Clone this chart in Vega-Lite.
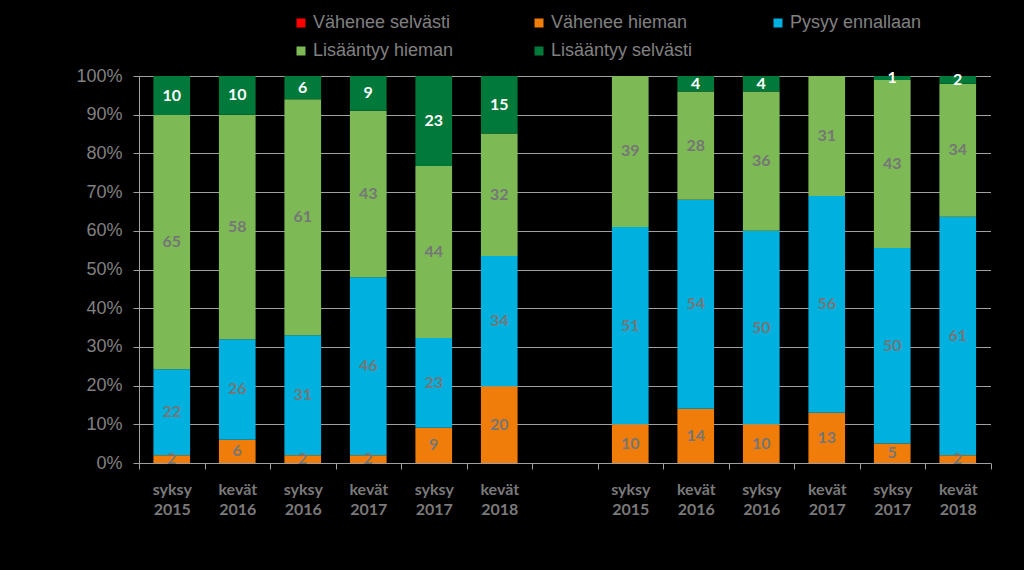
{
  "$schema": "https://vega.github.io/schema/vega-lite/v6.json",
  "width": 851.5,
  "height": 387,
  "autosize": {"type": "none"},
  "padding": {"left": 139, "top": 76, "right": 33.5, "bottom": 107},
  "background": "black",
  "config": {
    "view": {"stroke": null},
    "font": "Liberation Sans",
    "axisY": {
      "title": null,
      "values": [0, 0.1, 0.2, 0.3, 0.4, 0.5, 0.6, 0.7, 0.8, 0.9, 1],
      "labelOverlap": false,
      "format": ".0%",
      "labelFont": "Liberation Sans",
      "labelFontSize": 18,
      "labelColor": "#808080",
      "labelPadding": 11,
      "tickSize": 6,
      "tickColor": "#a0a0a0",
      "domainColor": "#a0a0a0",
      "grid": true,
      "gridColor": "#a0a0a0",
      "gridWidth": 1
    }
  },
  "data": {
    "values": [
      {"c": "syksy 2015|A", "s": "Vähenee hieman", "o": 2, "v": 2},
      {"c": "syksy 2015|A", "s": "Pysyy ennallaan", "o": 3, "v": 22},
      {"c": "syksy 2015|A", "s": "Lisääntyy hieman", "o": 4, "v": 65},
      {"c": "syksy 2015|A", "s": "Lisääntyy selvästi", "o": 5, "v": 10},
      {"c": "kevät 2016|A", "s": "Vähenee hieman", "o": 2, "v": 6},
      {"c": "kevät 2016|A", "s": "Pysyy ennallaan", "o": 3, "v": 26},
      {"c": "kevät 2016|A", "s": "Lisääntyy hieman", "o": 4, "v": 58},
      {"c": "kevät 2016|A", "s": "Lisääntyy selvästi", "o": 5, "v": 10},
      {"c": "syksy 2016|A", "s": "Vähenee hieman", "o": 2, "v": 2},
      {"c": "syksy 2016|A", "s": "Pysyy ennallaan", "o": 3, "v": 31},
      {"c": "syksy 2016|A", "s": "Lisääntyy hieman", "o": 4, "v": 61},
      {"c": "syksy 2016|A", "s": "Lisääntyy selvästi", "o": 5, "v": 6},
      {"c": "kevät 2017|A", "s": "Vähenee hieman", "o": 2, "v": 2},
      {"c": "kevät 2017|A", "s": "Pysyy ennallaan", "o": 3, "v": 46},
      {"c": "kevät 2017|A", "s": "Lisääntyy hieman", "o": 4, "v": 43},
      {"c": "kevät 2017|A", "s": "Lisääntyy selvästi", "o": 5, "v": 9},
      {"c": "syksy 2017|A", "s": "Vähenee hieman", "o": 2, "v": 9},
      {"c": "syksy 2017|A", "s": "Pysyy ennallaan", "o": 3, "v": 23},
      {"c": "syksy 2017|A", "s": "Lisääntyy hieman", "o": 4, "v": 44},
      {"c": "syksy 2017|A", "s": "Lisääntyy selvästi", "o": 5, "v": 23},
      {"c": "kevät 2018|A", "s": "Vähenee hieman", "o": 2, "v": 20},
      {"c": "kevät 2018|A", "s": "Pysyy ennallaan", "o": 3, "v": 34},
      {"c": "kevät 2018|A", "s": "Lisääntyy hieman", "o": 4, "v": 32},
      {"c": "kevät 2018|A", "s": "Lisääntyy selvästi", "o": 5, "v": 15},
      {"c": "syksy 2015|B", "s": "Vähenee hieman", "o": 2, "v": 10},
      {"c": "syksy 2015|B", "s": "Pysyy ennallaan", "o": 3, "v": 51},
      {"c": "syksy 2015|B", "s": "Lisääntyy hieman", "o": 4, "v": 39},
      {"c": "kevät 2016|B", "s": "Vähenee hieman", "o": 2, "v": 14},
      {"c": "kevät 2016|B", "s": "Pysyy ennallaan", "o": 3, "v": 54},
      {"c": "kevät 2016|B", "s": "Lisääntyy hieman", "o": 4, "v": 28},
      {"c": "kevät 2016|B", "s": "Lisääntyy selvästi", "o": 5, "v": 4},
      {"c": "syksy 2016|B", "s": "Vähenee hieman", "o": 2, "v": 10},
      {"c": "syksy 2016|B", "s": "Pysyy ennallaan", "o": 3, "v": 50},
      {"c": "syksy 2016|B", "s": "Lisääntyy hieman", "o": 4, "v": 36},
      {"c": "syksy 2016|B", "s": "Lisääntyy selvästi", "o": 5, "v": 4},
      {"c": "kevät 2017|B", "s": "Vähenee hieman", "o": 2, "v": 13},
      {"c": "kevät 2017|B", "s": "Pysyy ennallaan", "o": 3, "v": 56},
      {"c": "kevät 2017|B", "s": "Lisääntyy hieman", "o": 4, "v": 31},
      {"c": "syksy 2017|B", "s": "Vähenee hieman", "o": 2, "v": 5},
      {"c": "syksy 2017|B", "s": "Pysyy ennallaan", "o": 3, "v": 50},
      {"c": "syksy 2017|B", "s": "Lisääntyy hieman", "o": 4, "v": 43},
      {"c": "syksy 2017|B", "s": "Lisääntyy selvästi", "o": 5, "v": 1},
      {"c": "kevät 2018|B", "s": "Vähenee hieman", "o": 2, "v": 2},
      {"c": "kevät 2018|B", "s": "Pysyy ennallaan", "o": 3, "v": 61},
      {"c": "kevät 2018|B", "s": "Lisääntyy hieman", "o": 4, "v": 34},
      {"c": "kevät 2018|B", "s": "Lisääntyy selvästi", "o": 5, "v": 2}
    ]
  },
  "transform": [
    {"stack": "v", "groupby": ["c"], "sort": [{"field": "o", "order": "ascending"}], "as": ["v0", "v1"], "offset": "normalize"},
    {"calculate": "(datum.v0 + datum.v1) / 2", "as": "mid"}
  ],
  "encoding": {
    "x": {
      "field": "c",
      "type": "nominal",
      "scale": {
        "domain": ["syksy 2015|A", "kevät 2016|A", "syksy 2016|A", "kevät 2017|A", "syksy 2017|A", "kevät 2018|A", "gap", "syksy 2015|B", "kevät 2016|B", "syksy 2016|B", "kevät 2017|B", "syksy 2017|B", "kevät 2018|B"],
        "paddingInner": 0,
        "paddingOuter": 0
      },
      "axis": {
        "title": null,
        "labelAngle": 0,
        "labelExpr": "(datum.value == null || datum.value == 'gap') ? '' : split(split(datum.value, '|')[0], ' ')",
        "labelFont": "Lato",
        "labelFontWeight": "bold",
        "labelFontSize": 16,
        "labelColor": "#7a7a7a",
        "labelLineHeight": 20,
        "labelPadding": 12,
        "tickBand": "extent",
        "tickSize": 6,
        "tickColor": "#a0a0a0",
        "domainColor": "#a0a0a0",
        "grid": false
      }
    }
  },
  "layer": [
    {
      "mark": {"type": "bar", "width": {"band": 0.56}},
      "encoding": {
        "y": {
          "field": "v0",
          "type": "quantitative",
          "scale": {"domain": [0, 1], "nice": false}
        },
        "y2": {"field": "v1"},
        "color": {
          "field": "s",
          "type": "nominal",
          "scale": {
            "domain": ["Vähenee selvästi", "Vähenee hieman", "Pysyy ennallaan", "Lisääntyy hieman", "Lisääntyy selvästi"],
            "range": ["#ff0000", "#f07d0a", "#00b0de", "#7dba55", "#00793a"]
          },
          "legend": {
            "title": null,
            "orient": "none",
            "legendX": 153,
            "legendY": -62,
            "direction": "horizontal",
            "columns": 3,
            "columnPadding": 76,
            "rowPadding": 10,
            "padding": 0,
            "symbolType": "square",
            "symbolSize": 81,
            "symbolStrokeWidth": 0,
            "labelFont": "Liberation Sans",
            "labelFontSize": 18,
            "labelColor": "#808080",
            "labelOffset": 3,
            "labelLimit": 300
          }
        }
      }
    },
    {
      "transform": [{"filter": "datum.v > 0"}],
      "mark": {"type": "text", "font": "Lato", "fontWeight": "bold", "fontSize": 16, "baseline": "middle", "align": "center"},
      "encoding": {
        "y": {"field": "mid", "type": "quantitative"},
        "text": {"field": "v", "type": "quantitative"},
        "color": {
          "condition": {"test": "datum.s === 'Lisääntyy selvästi'", "value": "#ffffff"},
          "value": "#767676"
        }
      }
    }
  ]
}
